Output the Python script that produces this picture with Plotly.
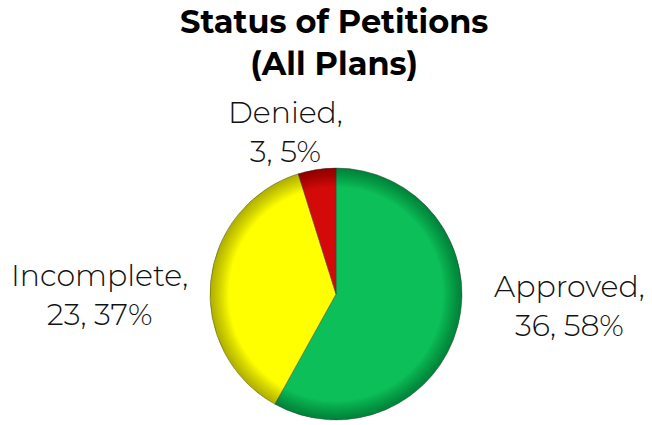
import plotly.graph_objects as go

# Petition outcomes across all plans
categories = ["Approved", "Incomplete", "Denied"]
counts = [36, 23, 3]
colors = ["#0cbf58", "#ffff00", "#d40a0a"]

# label anchor positions (paper coords) for the outside labels
label_pos = {
    "Approved": (0.873, 0.280),
    "Incomplete": (0.152, 0.305),
    "Denied": (0.438, 0.690),
}

W, H = 652, 425
cx, cy, r = 336, 294, 126
dom_x = [(cx - r) / W, (cx + r) / W]
dom_y = [1 - (cy + r) / H, 1 - (cy - r) / H]

total = sum(counts)
fig = go.Figure()

fig.add_trace(go.Pie(
    labels=categories,
    values=counts,
    sort=False,
    direction="clockwise",
    rotation=0,
    marker=dict(colors=colors, line=dict(color="rgba(60,60,60,0.4)", width=1)),
    textinfo="none",
    hoverinfo="label+value+percent",
    showlegend=False,
    domain=dict(x=dom_x, y=dom_y),
))

# bevel: stacked translucent rings darken the rim
for i in range(12):
    fig.add_trace(go.Pie(
        values=[1],
        hole=0.985 - i * 0.012,
        marker=dict(colors=["rgba(0,0,0,0.028)"], line=dict(width=0)),
        textinfo="none",
        hoverinfo="skip",
        showlegend=False,
        domain=dict(x=dom_x, y=dom_y),
    ))

font_family = "Montserrat, Inter, 'Open Sans', sans-serif"
label_font = dict(family=font_family, size=30, color="#111111", weight=300)
for cat, val in zip(categories, counts):
    pct = round(100 * val / total)
    x, y = label_pos[cat]
    fig.add_annotation(
        x=x, y=y, xref="paper", yref="paper",
        text=f"{cat},<br>{val}, {pct}%",
        showarrow=False, align="center",
        xanchor="center", yanchor="middle",
        font=label_font,
    )

fig.add_annotation(
    x=0.512, y=1.0, xref="paper", yref="paper",
    text="<b>Status of Petitions<br>(All Plans)</b>",
    showarrow=False, align="center",
    xanchor="center", yanchor="top",
    font=dict(family=font_family, size=32, color="#000000"),
)

fig.update_layout(
    width=W, height=H,
    margin=dict(l=0, r=0, t=0, b=0),
    paper_bgcolor="white",
    plot_bgcolor="white",
)

fig.write_html("out.html")
